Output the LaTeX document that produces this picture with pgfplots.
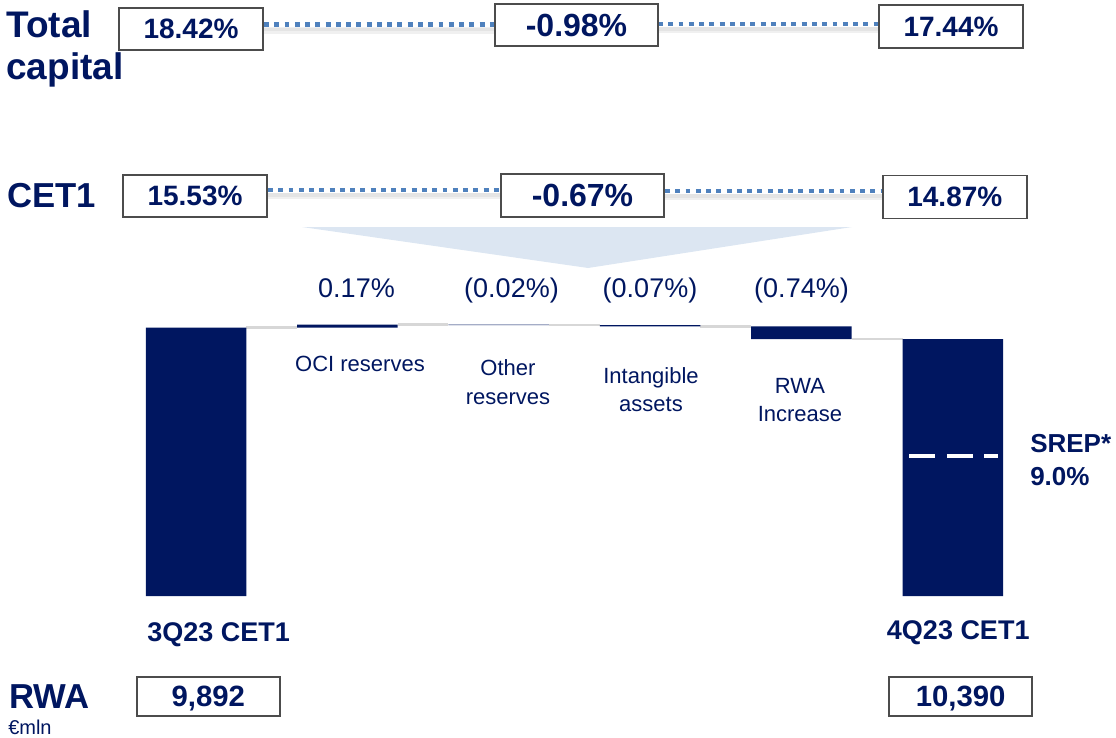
\documentclass[border=0pt]{standalone}
\usepackage{pgfplots}
\pgfplotsset{compat=1.18}
\usepackage{fontspec}
\setmainfont{Liberation Sans}
\definecolor{navy}{RGB}{0,22,96}
\definecolor{dotblue}{RGB}{79,129,189}
\definecolor{tri}{RGB}{220,230,242}
\definecolor{conn}{RGB}{215,215,215}
\newcommand{\fs}[1]{\fontsize{#1}{#1}\selectfont}
\newcommand{\bx}[6]{\node[draw=black!70, line width=1.1pt, fill=white, minimum width=#3*0.75pt, minimum height=#4*0.75pt, inner sep=0pt, text depth=0pt, font=\bfseries\fs{#5}, text=navy] at (#1,#2) {#6};}
\newcommand{\dl}[3]{%
\draw[black, opacity=.06, line width=5pt] (#1,#3+6) -- (#2,#3+6);
\draw[black, opacity=.05, line width=2.5pt] (#1,#3+5) -- (#2,#3+5);
\draw[dotblue, line width=3.2pt, dash pattern=on 3.7pt off 4pt] (#1,#3) -- (#2,#3);}
\pgfplotsset{wf/.style={at={(90.24pt,-447pt)}, anchor=south west, scale only axis,
  width=681.1pt, height=207.36pt, xmin=-0.5, xmax=5.5, ymin=0, ymax=16, hide axis, clip=false}}
\begin{document}
\begin{tikzpicture}
\begin{scope}[x=0.75pt,y=-0.75pt]
\path (0,0) rectangle (1116,738);
\fill[tri] (302,227) -- (852,227) -- (588,268) -- cycle;
\dl{264}{495}{24.5}
\dl{658}{879}{24}
\dl{268}{501}{190}
\dl{665}{882}{191}
\bx{191}{29}{144}{42}{21pt}{18.42\%}
\bx{576.5}{25}{163}{42}{24pt}{-0.98\%}
\bx{951}{26.5}{144}{43}{21pt}{17.44\%}
\bx{195}{196}{144}{42}{21pt}{15.53\%}
\bx{582.5}{195.5}{163}{43}{24pt}{-0.67\%}
\bx{954.8}{197}{144}{43}{21pt}{14.87\%}
\bx{208.3}{696.7}{143}{39}{22pt}{9,892}
\bx{960.7}{696.7}{143}{39}{22pt}{10,390}
\end{scope}
\begin{axis}[wf]
\addplot[conn, line width=2pt] coordinates {(0.332,15.53) (0.668,15.53)};
\addplot[conn, line width=2pt] coordinates {(1.332,15.70) (1.668,15.70)};
\addplot[conn, line width=2pt] coordinates {(2.332,15.68) (2.668,15.68)};
\addplot[conn, line width=2pt] coordinates {(3.332,15.61) (3.668,15.61)};
\addplot[conn, line width=2pt] coordinates {(4.332,14.87) (4.668,14.87)};
\end{axis}
\begin{axis}[wf, ybar stacked, bar width=0.664]
\addplot[draw=none, fill=none] coordinates {(0,0) (1,15.53) (2,15.68) (3,15.61) (4,14.87) (5,0)};
\addplot[draw=none, fill=navy] coordinates {(0,15.53) (1,0.17) (2,0.02) (3,0.07) (4,0.74) (5,14.87)};
\end{axis}
\begin{axis}[wf]
\addplot[white, line width=3.4pt, dash pattern=on 19.3pt off 8.8pt] coordinates {(4.713,8.1) (5.299,8.1)};
\end{axis}
\begin{scope}[x=0.75pt,y=-0.75pt, every node/.style={inner sep=0pt, text=navy}]
\node[anchor=base west, font=\bfseries\fs{27.75pt}] at (6,37.5) {Total};
\node[anchor=base west, font=\bfseries\fs{27.75pt}] at (6,80) {capital};
\node[anchor=base west, font=\bfseries\fs{26pt}] at (7,207) {CET1};
\node[anchor=base, font=\fs{20.25pt}] at (356.5,297) {0.17\%};
\node[anchor=base, font=\fs{20.25pt}] at (511.5,297) {(0.02\%)};
\node[anchor=base, font=\fs{20.25pt}] at (650,297) {(0.07\%)};
\node[anchor=base, font=\fs{20.25pt}] at (801.5,297) {(0.74\%)};
\node[anchor=base, font=\fs{16.5pt}] at (360,371.7) {OCI reserves};
\node[anchor=base, font=\fs{16.5pt}] at (508,375.7) {Other};
\node[anchor=base, font=\fs{16.5pt}] at (508,404) {reserves};
\node[anchor=base, font=\fs{16.5pt}] at (651,383.3) {Intangible};
\node[anchor=base, font=\fs{16.5pt}] at (651,411.7) {assets};
\node[anchor=base, font=\fs{16.5pt}] at (800,393.3) {RWA};
\node[anchor=base, font=\fs{16.5pt}] at (800,421.7) {Increase};
\node[anchor=base west, font=\bfseries\fs{19.5pt}] at (1030,452) {SREP*};
\node[anchor=base west, font=\bfseries\fs{19.5pt}] at (1030,485) {9.0\%};
\node[anchor=base west, font=\bfseries\fs{20.25pt}] at (147,641.7) {3Q23 CET1};
\node[anchor=base west, font=\bfseries\fs{20.25pt}] at (886.7,639) {4Q23 CET1};
\node[anchor=base west, font=\bfseries\fs{26pt}] at (9,708) {RWA};
\node[anchor=base west, font=\fs{15pt}] at (8,734) {€mln};
\end{scope}
\end{tikzpicture}
\end{document}
